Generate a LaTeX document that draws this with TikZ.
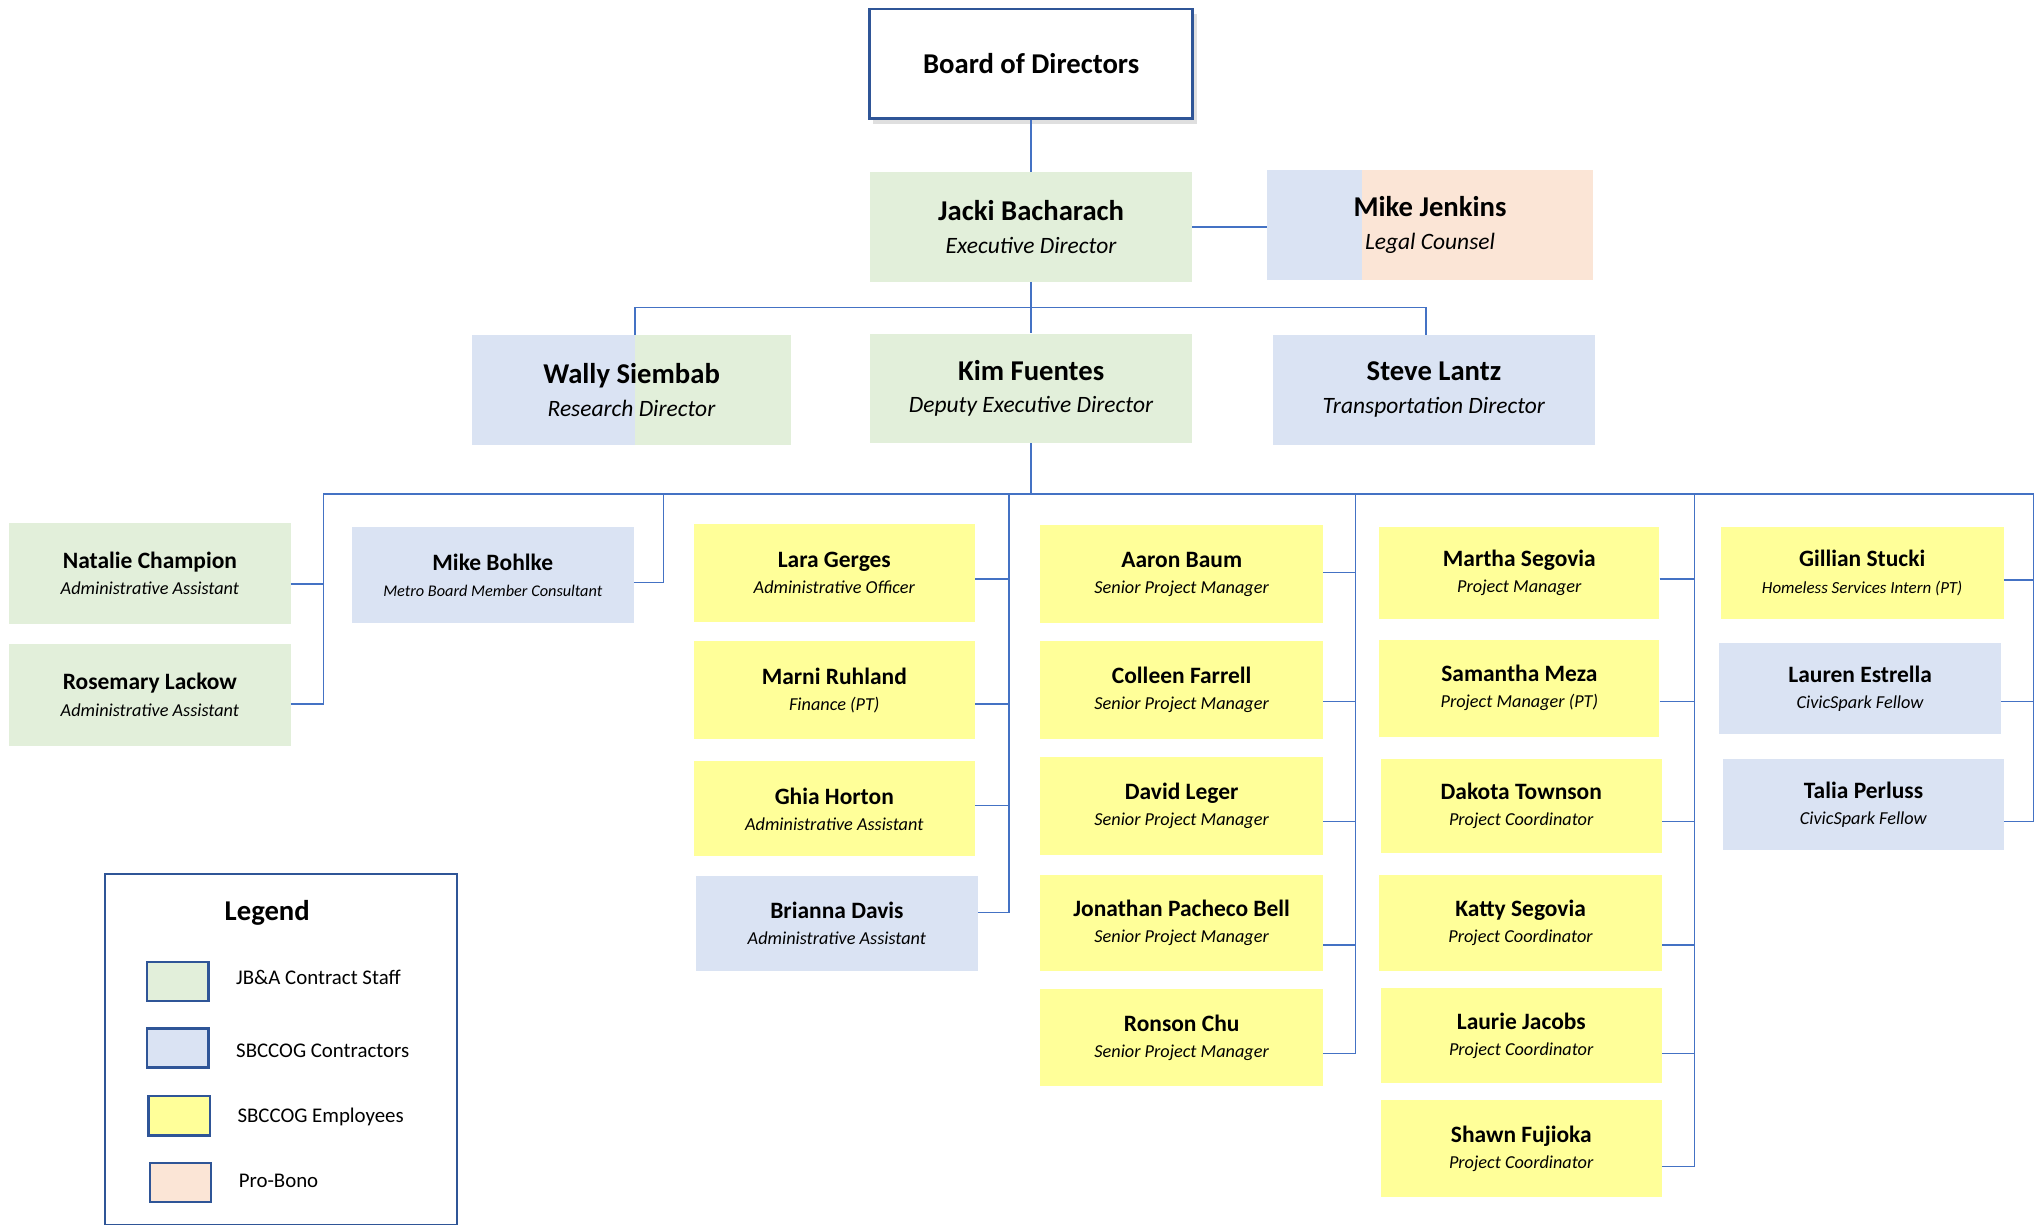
\documentclass[tikz,border=0pt]{standalone}
\usepackage{fontspec}
\setmainfont{Carlito}
\usetikzlibrary{shadows}
\definecolor{jbagreen}{HTML}{E2EFDA}
\definecolor{cogblue}{HTML}{DAE3F3}
\definecolor{cogyellow}{HTML}{FFFF99}
\definecolor{probono}{HTML}{FBE5D6}
\definecolor{linkblue}{HTML}{4472C4}
\definecolor{frameblue}{HTML}{2F5597}
\tikzstyle{lead}=[rectangle, inner sep=0pt, minimum width=247pt, minimum height=84pt, align=center, font=\fontsize{18}{25}\selectfont]
\tikzstyle{staff}=[rectangle, inner sep=0pt, minimum width=216pt, minimum height=74pt, align=center, font=\fontsize{14}{20}\selectfont]
\tikzstyle{link}=[draw=linkblue, line width=1.1pt]
\tikzstyle{swatch}=[rectangle, draw=frameblue, line width=1.8pt, inner sep=0pt, minimum width=47pt, minimum height=30pt]
\tikzstyle{keytext}=[anchor=west, inner sep=0pt, font=\fontsize{16}{20}\selectfont]
\newcommand{\lname}[1]{{\fontsize{22}{25}\selectfont\bfseries #1}}
\newcommand{\sname}[1]{{\fontsize{18}{20}\selectfont\bfseries #1}}

\begin{document}
\begin{tikzpicture}[x=1pt, y=-1pt]
            \useasboundingbox (0,0) rectangle (1568,939);
            % board and directors
            \node[draw=frameblue, line width=2pt, fill=white, minimum width=248pt, minimum height=84pt,
                drop shadow={shadow xshift=3pt, shadow yshift=-4pt, opacity=0.25},
                font=\fontsize{22}{25}\selectfont\bfseries] (board) at (791,49) {Board of Directors};
            \node[lead, fill=jbagreen] (jacki) at (791,174) {\lname{Jacki Bacharach}\\\textit{Executive Director}};
            \node[lead, fill=probono, minimum width=250pt,
                path picture={\fill[cogblue] (path picture bounding box.north west) rectangle ([xshift=73pt]path picture bounding box.south west);}]
                (jenkins) at (1097,172.5) {\lname{Mike Jenkins}\\\textit{Legal Counsel}};
            \node[lead, fill=jbagreen, minimum width=245pt,
                path picture={\fill[cogblue] (path picture bounding box.north west) rectangle ([xshift=125pt]path picture bounding box.south west);}]
                (wally) at (484.5,299) {\lname{Wally Siembab}\\\textit{Research Director}};
            \node[lead, fill=jbagreen] (kim) at (791,298) {\lname{Kim Fuentes}\\\textit{Deputy Executive Director}};
            \node[lead, fill=cogblue] (steve) at (1100,299) {\lname{Steve Lantz}\\\textit{Transportation Director}};

            \coordinate (split) at (791,236);
            \coordinate (hub) at (791,379);
            \draw[link] (board) -- (jacki);
            \draw[link] (jacki.east) -- (jenkins.west |- jacki.east);
            \draw[link] (jacki) -- (split);
            \draw[link] ([xshift=2.5pt]wally.north) |- (split) -| ([xshift=-6pt]steve.north);
            \draw[link] (split) -- (kim);
            \draw[link] (kim) -- (hub);

            % staff columns
            \node[staff, fill=jbagreen, minimum height=78pt] (natalie) at (115,440) {\sname{Natalie Champion}\\\textit{Administrative Assistant}};
            \node[staff, fill=jbagreen, minimum height=78pt] (rosemary) at (115,533) {\sname{Rosemary Lackow}\\\textit{Administrative Assistant}};
            \node[staff, fill=cogblue] (bohlke) at (378,441) {\sname{Mike Bohlke}\\{\fontsize{12.5}{20}\selectfont\itshape Metro Board Member Consultant}};

            \node[staff, fill=cogyellow, minimum height=75pt] (lara) at (640,439.5) {\sname{Lara Gerges}\\\textit{Administrative Officer}};
            \node[staff, fill=cogyellow, minimum height=75pt] (marni) at (640,529.5) {\sname{Marni Ruhland}\\\textit{Finance (PT)}};
            \node[staff, fill=cogyellow, minimum height=73pt] (ghia) at (640,620.5) {\sname{Ghia Horton}\\\textit{Administrative Assistant}};
            \node[staff, fill=cogblue, minimum height=73pt] (brianna) at (642,708.5) {\sname{Brianna Davis}\\\textit{Administrative Assistant}};

            \node[staff, fill=cogyellow, minimum width=217pt, minimum height=75pt] (aaron) at (906.5,440.5) {\sname{Aaron Baum}\\\textit{Senior Project Manager}};
            \node[staff, fill=cogyellow, minimum width=217pt, minimum height=75pt] (colleen) at (906.5,529.5) {\sname{Colleen Farrell}\\\textit{Senior Project Manager}};
            \node[staff, fill=cogyellow, minimum width=217pt, minimum height=75pt] (david) at (906.5,618.5) {\sname{David Leger}\\\textit{Senior Project Manager}};
            \node[staff, fill=cogyellow, minimum width=217pt] (jonathan) at (906.5,708) {\sname{Jonathan Pacheco Bell}\\\textit{Senior Project Manager}};
            \node[staff, fill=cogyellow, minimum width=217pt] (ronson) at (906.5,796) {\sname{Ronson Chu}\\\textit{Senior Project Manager}};

            \node[staff, fill=cogyellow, minimum width=215pt, minimum height=71pt] (martha) at (1165.5,439.5) {\sname{Martha Segovia}\\\textit{Project Manager}};
            \node[staff, fill=cogyellow, minimum width=215pt] (samantha) at (1165.5,528) {\sname{Samantha Meza}\\\textit{Project Manager (PT)}};
            \node[staff, fill=cogyellow, minimum height=72pt] (dakota) at (1167,618) {\sname{Dakota Townson}\\\textit{Project Coordinator}};
            \node[staff, fill=cogyellow, minimum width=217pt] (katty) at (1166.5,708) {\sname{Katty Segovia}\\\textit{Project Coordinator}};
            \node[staff, fill=cogyellow, minimum height=73pt] (laurie) at (1167,794.5) {\sname{Laurie Jacobs}\\\textit{Project Coordinator}};
            \node[staff, fill=cogyellow] (shawn) at (1167,881) {\sname{Shawn Fujioka}\\\textit{Project Coordinator}};

            \node[staff, fill=cogyellow, minimum width=217pt, minimum height=71pt] (gillian) at (1428.5,439.5) {\sname{Gillian Stucki}\\{\fontsize{13}{20}\selectfont\itshape Homeless Services Intern (PT)}};
            \node[staff, fill=cogblue, minimum height=70pt] (lauren) at (1427,528) {\sname{Lauren Estrella}\\\textit{CivicSpark Fellow}};
            \node[staff, fill=cogblue, minimum width=215pt, minimum height=70pt] (talia) at (1429.5,617) {\sname{Talia Perluss}\\\textit{CivicSpark Fellow}};

            % bus lines
            \coordinate (bus1) at (248,379);
            \coordinate (bus2) at (509,379);
            \coordinate (bus3) at (774,379);
            \coordinate (bus4) at (1040,379);
            \coordinate (bus5) at (1300,379);
            \coordinate (bus6) at (1560,379);
            \draw[link] (bus1) -- (bus6);

            \draw[link] ([yshift=-8pt]natalie.east) -| (bus1);
            \draw[link] ([yshift=-7pt]rosemary.east) -| (bus1);
            \draw[link] ([yshift=-6pt]bohlke.east) -| (bus2);

            \draw[link] ([yshift=-4.5pt]lara.east) -| (bus3);
            \draw[link] ([yshift=-10.5pt]marni.east) -| (bus3);
            \draw[link] ([yshift=2.5pt]ghia.east) -| (bus3);
            \draw[link] ([yshift=8.5pt]brianna.east) -| (bus3);

            \draw[link] ([yshift=1.5pt]aaron.east) -| (bus4);
            \draw[link] ([yshift=-8.5pt]colleen.east) -| (bus4);
            \draw[link] ([yshift=-11.5pt]david.east) -| (bus4);
            \draw[link] ([yshift=-17pt]jonathan.east) -| (bus4);
            \draw[link] ([yshift=-12pt]ronson.east) -| (bus4);

            \draw[link] ([yshift=-4.5pt]martha.east) -| (bus5);
            \draw[link] ([yshift=-10pt]samantha.east) -| (bus5);
            \draw[link] ([yshift=-12pt]dakota.east) -| (bus5);
            \draw[link] ([yshift=-17pt]katty.east) -| (bus5);
            \draw[link] ([yshift=-13.5pt]laurie.east) -| (bus5);
            \draw[link] ([yshift=-14pt]shawn.east) -| (bus5);

            \draw[link] ([yshift=-5.5pt]gillian.east) -| (bus6);
            \draw[link] ([yshift=-10pt]lauren.east) -| (bus6);
            \draw[link] ([yshift=-13pt]talia.east) -| (bus6);

            % legend
            \node[draw=frameblue, line width=1.5pt, anchor=north west, inner sep=0pt, minimum width=270pt, minimum height=269pt] (legend) at (80,670) {};
            \node[font=\fontsize{22}{25}\selectfont\bfseries] (legendtitle) at (205,700) {Legend};
            \node[swatch, fill=jbagreen] (keyjba) at (136.5,753) {};
            \node[swatch, fill=cogblue] (keycontr) at (136.5,804) {};
            \node[swatch, fill=cogyellow] (keyempl) at (137.5,856) {};
            \node[swatch, fill=probono] (keybono) at (138.5,907) {};
            \node[keytext] (txtjba) at (181,750) {JB\&A Contract Staff};
            \node[keytext] (txtcontr) at (181,806) {SBCCOG Contractors};
            \node[keytext] (txtempl) at (182,857) {SBCCOG Employees};
            \node[keytext] (txtbono) at (183,906) {Pro-Bono};
        \end{tikzpicture}
\end{document}
